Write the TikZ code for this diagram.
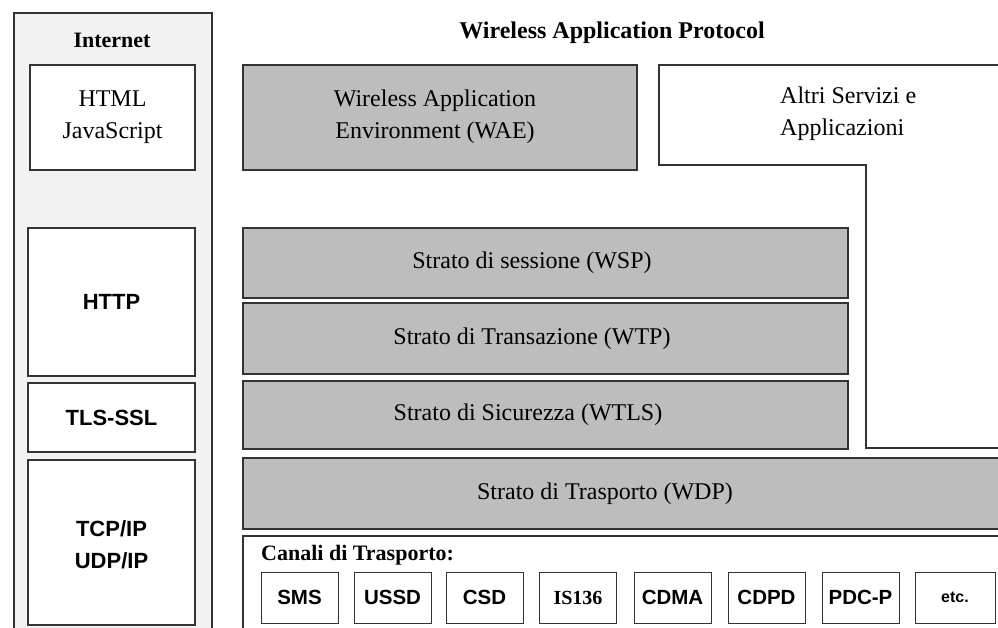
\documentclass[tikz,border=0pt]{standalone}
\usepackage{fontspec}
\setmainfont{Liberation Serif}
\setsansfont{Liberation Sans}
\begin{document}
\begin{tikzpicture}[x=1pt,y=-1pt,
  box/.style={draw=black!80, line width=1.3pt, inner sep=0pt, align=center},
  layer/.style={box, fill=black!26},
  wbox/.style={box, fill=white},
  chan/.style={draw=black!80, line width=1pt, fill=white, inner sep=0pt,
     minimum width=77pt, minimum height=51pt, font=\sffamily\bfseries\fontsize{20.5}{22}\selectfont},
  serif/.style={font=\fontsize{24}{32}\selectfont, align=center, inner sep=0pt},
  serifb/.style={font=\bfseries\fontsize{22}{32}\selectfont, inner sep=0pt},
  sanslbl/.style={font=\sffamily\bfseries\fontsize{22}{32}\selectfont, align=center, inner sep=0pt}
]
\useasboundingbox (0,0) rectangle (998,628);
\clip (0,0) rectangle (998,628);
\fill[white] (0,0) rectangle (998,628);

% Internet column
\node[box, fill=black!5, minimum width=198pt, minimum height=640pt] (inet) at (113,333) {};
\node[serifb] (inetlbl) at (112,40) {Internet};
\node[wbox, minimum width=165pt, minimum height=105pt] (html) at (112.5,117.5) {};
\node[serif] (htmllbl) at (112.5,117) {HTML\\JavaScript};
\node[wbox, minimum width=167pt, minimum height=148pt] (http) at (111.5,302) {};
\node[sanslbl] (httplbl) at (111.5,302) {HTTP};
\node[wbox, minimum width=167pt, minimum height=69pt] (tls) at (111.5,417.5) {};
\node[sanslbl] (tlslbl) at (111.5,417.5) {TLS-SSL};
\node[wbox, minimum width=167pt, minimum height=165pt] (tcp) at (111.5,542.5) {};
\node[sanslbl] (tcplbl) at (111.5,545) {TCP/IP\\UDP/IP};

% WAP
\node[serifb, font=\bfseries\fontsize{24}{32}\selectfont] (title) at (612,33) {Wireless Application Protocol};
\node[layer, minimum width=394pt, minimum height=105pt] (wae) at (440,117.5) {};
\node[serif] (waelbl) at (435,117) {Wireless Application\\Environment (WAE)};

\draw[black!80, line width=1.3pt, fill=white]
  (659,65) -- (1010,65) -- (1010,448) -- (866,448) -- (866,165) -- (659,165) -- cycle;
\node[serif, anchor=west, align=left] (altri) at (780,114) {Altri Servizi e\\Applicazioni};

\node[layer, minimum width=605pt, minimum height=70pt] (wsp) at (545.5,263) {};
\node[serif] (wsplbl) at (532,263) {Strato di sessione (WSP)};
\node[layer, minimum width=605pt, minimum height=71pt] (wtp) at (545.5,338.5) {};
\node[serif] (wtplbl) at (532,339) {Strato di Transazione (WTP)};
\node[layer, minimum width=605pt, minimum height=68pt] (wtls) at (545.5,415) {};
\node[serif] (wtlslbl) at (528,415) {Strato di Sicurezza (WTLS)};
\node[layer, minimum width=767pt, minimum height=71pt] (wdp) at (626.5,493.5) {};
\node[serif] (wdplbl) at (605,494) {Strato di Trasporto (WDP)};

\node[wbox, minimum width=767pt, minimum height=120pt] (canali) at (626.5,596) {};
\node[serifb, anchor=west] (canalilbl) at (261,555) {Canali di Trasporto:};
\node[chan] (sms) at (299.5,597.5) {SMS};
\node[chan] (ussd) at (392.5,597.5) {USSD};
\node[chan] (csd) at (484.5,597.5) {CSD};
\node[chan, font=\bfseries\fontsize{20}{22}\selectfont] (is) at (578,597.5) {IS136};
\node[chan] (cdma) at (672.5,597.5) {CDMA};
\node[chan] (cdpd) at (766.5,597.5) {CDPD};
\node[chan] (pdc) at (860.5,597.5) {PDC-P};
\node[chan, minimum width=80pt, font=\sffamily\bfseries\fontsize{16}{18}\selectfont] (etc) at (955,597.5) {etc.};
\end{tikzpicture}
\end{document}
